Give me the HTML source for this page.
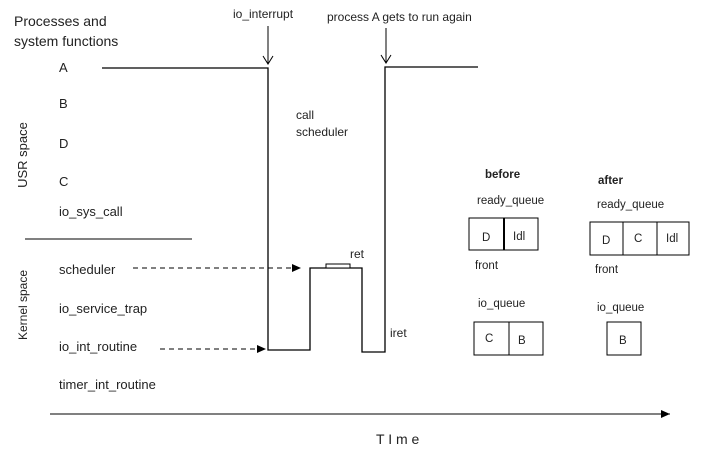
<!DOCTYPE html>
<html><head><style>body{margin:0;background:#fff}svg{display:block}text{font-family:"Liberation Sans",sans-serif;fill:#222}</style></head>
<body>
<svg width="714" height="457" viewBox="0 0 714 457" xmlns="http://www.w3.org/2000/svg">
<defs>
<marker id="a" markerWidth="10" markerHeight="10" refX="9" refY="5" orient="auto" markerUnits="userSpaceOnUse"><path d="M0,1 L9,5 L0,9 Z" fill="#000"/></marker>
<marker id="o" markerWidth="12" markerHeight="12" refX="6" refY="11" orient="0" markerUnits="userSpaceOnUse"><path d="M1,3 L6,11 L11,3" fill="none" stroke="#000"/></marker>
</defs>
<g font-size="14">
<text x="14" y="26">Processes and</text>
<text x="14" y="46">system functions</text>
</g>
<g font-size="13">
<text x="59" y="72">A</text>
<text x="59" y="108">B</text>
<text x="59" y="148">D</text>
<text x="59" y="186">C</text>
<text x="59" y="216">io_sys_call</text>
<text x="59" y="274">scheduler</text>
<text x="59" y="313">io_service_trap</text>
<text x="59" y="351">io_int_routine</text>
<text x="59" y="389">timer_int_routine</text>
<text transform="translate(27,155) rotate(-90)" text-anchor="middle">USR space</text>
<text transform="translate(27,305) rotate(-90)" text-anchor="middle" font-size="12">Kernel space</text>
</g>
<line x1="25" y1="239" x2="192" y2="239" stroke="#000"/>
<polyline points="102,68 268,68 268,350 310,350 310,268 362,268 362,352 385,352 385,67 478,67" fill="none" stroke="#000" stroke-width="1.3"/>
<rect x="326" y="264" width="24" height="4" fill="#fff" stroke="#000"/>
<g font-size="12">
<text x="350" y="258">ret</text>
<text x="390" y="337">iret</text>
<text x="233" y="18">io_interrupt</text>
<text x="327" y="21">process A gets to run again</text>
<text x="296" y="119">call</text>
<text x="296" y="136">scheduler</text>
</g>
<line x1="268" y1="26" x2="268" y2="64" stroke="#000" marker-end="url(#o)"/>
<line x1="386" y1="28" x2="386" y2="63" stroke="#000" marker-end="url(#o)"/>
<line x1="133" y1="268" x2="301" y2="268" stroke="#000" stroke-dasharray="5,4" marker-end="url(#a)"/>
<line x1="160" y1="349" x2="266" y2="349" stroke="#000" stroke-dasharray="5,4" marker-end="url(#a)"/>
<line x1="50" y1="414" x2="670" y2="414" stroke="#000" marker-end="url(#a)"/>
<text x="376" y="444" font-size="14">T I m e</text>
<g font-size="11.5">
<text x="485" y="178" font-weight="bold">before</text>
<text x="477" y="204">ready_queue</text>
<rect x="469" y="218" width="69" height="32" fill="none" stroke="#000"/>
<line x1="504" y1="218" x2="504" y2="250" stroke="#000" stroke-width="2"/>
<text x="482" y="241">D</text><text x="513" y="240">Idl</text>
<text x="475" y="269">front</text>
<text x="478" y="307">io_queue</text>
<rect x="474" y="322" width="69" height="33" fill="none" stroke="#000"/>
<line x1="509" y1="322" x2="509" y2="355" stroke="#000"/>
<text x="485" y="342">C</text><text x="518" y="344">B</text>
<text x="598" y="184" font-weight="bold">after</text>
<text x="597" y="208">ready_queue</text>
<rect x="590" y="222" width="99" height="33" fill="none" stroke="#000"/>
<line x1="623" y1="222" x2="623" y2="255" stroke="#000"/>
<line x1="657" y1="222" x2="657" y2="255" stroke="#000"/>
<text x="602" y="244">D</text><text x="634" y="242">C</text><text x="666" y="242">Idl</text>
<text x="595" y="273">front</text>
<text x="597" y="311">io_queue</text>
<rect x="607" y="322" width="34" height="33" fill="none" stroke="#000"/>
<text x="619" y="344">B</text>
</g>
</svg>
</body></html>
